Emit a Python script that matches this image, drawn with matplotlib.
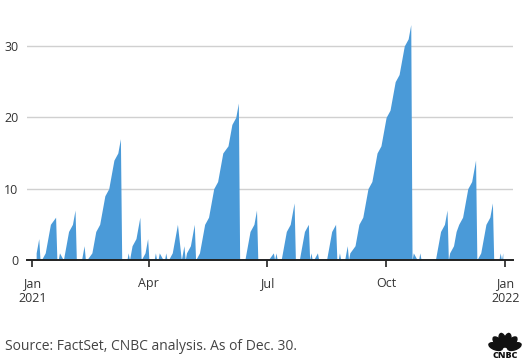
import numpy as np
import pandas as pd
import matplotlib.pyplot as plt
from matplotlib.patches import Ellipse

plt.rcParams['font.family'] = ['Open Sans', 'DejaVu Sans']

# market holidays 2021 (series runs on trading days, as of Dec. 30)
holidays = ['2021-01-18', '2021-02-15', '2021-04-02', '2021-05-31',
            '2021-07-05', '2021-09-06', '2021-11-25', '2021-12-24']

# values per trading day, month by month
jan = [1, 2, 3, 0, 0, 1, 2, 3, 4, 5, 6, 0, 0, 1, 0, 1, 2, 3, 4]
feb = [5, 6, 7, 0, 0, 0, 1, 2, 0, 0, 1, 2, 3, 4, 5, 6, 7, 8, 9]
mar = [10, 11, 12, 13, 14, 15, 16, 17, 0, 0, 0, 1, 0, 1, 2, 3, 4, 5, 6, 0, 1, 2, 3]
apr = [0, 0, 1, 0, 0, 1, 0, 0, 1, 0, 0, 1, 2, 3, 4, 5, 0, 1, 2, 0, 1]
may = [2, 3, 4, 5, 0, 1, 2, 3, 4, 5, 6, 7, 8, 9, 10, 11, 12, 13, 14, 15]
jun = [16, 17, 18, 19, 20, 21, 22, 0, 0, 0, 1, 2, 3, 4, 5, 6, 7, 0, 0, 0, 0, 0]
jul = [0, 0, 1, 0, 1, 0, 0, 1, 2, 3, 4, 5, 6, 7, 8, 0, 0, 1, 2, 3, 4]
aug = [5, 0, 1, 0, 0, 1, 0, 0, 0, 0, 0, 1, 2, 3, 4, 5, 0, 0, 1, 0, 0, 1]
sep = [2, 0, 1, 2, 3, 4, 5, 6, 7, 8, 9, 10, 11, 12, 13, 14, 15, 16, 17, 18, 19]
oct_ = [20, 21, 22, 23, 24, 25, 26, 27, 28, 29, 30, 31, 32, 33, 0, 1, 0, 0, 1, 0, 0]
nov = [0, 0, 0, 0, 0, 0, 1, 2, 3, 4, 5, 6, 7, 0, 1, 2, 3, 4, 5, 6, 7]
dec = [8, 9, 10, 11, 12, 13, 14, 0, 1, 2, 3, 4, 5, 6, 7, 8, 0, 0, 1, 0, 1]

tick_dates = ['2021-01-01', '2021-04-01', '2021-07-01', '2021-10-01', '2022-01-01']
tick_labels = ['Jan\n2021', 'Apr', 'Jul', 'Oct', 'Jan\n2022']
y_ticks = [0, 10, 20, 30]

values = jan + feb + mar + apr + may + jun + jul + aug + sep + oct_ + nov + dec
dates = pd.bdate_range('2021-01-04', '2021-12-30', freq='C', holidays=holidays)

W, H = 532, 363
fig = plt.figure(figsize=(W / 100, H / 100), dpi=100)
ax = fig.add_axes([26.7 / W, (H - 260) / H, (512.5 - 26.7) / W, (260 - 10.3) / H])

ax.fill_between(dates, values, 0, color='#4a9ad8', linewidth=0)

ax.set_xlim(pd.Timestamp('2020-12-27 17:00'), pd.Timestamp('2022-01-06 12:00'))
ax.set_ylim(0, 35)
ax.set_xticks(pd.to_datetime(tick_dates))
ax.set_xticklabels(tick_labels, linespacing=1.25)
ax.set_yticks(y_ticks)
ax.grid(axis='y', color='#d0d0d0', linewidth=1)
ax.set_axisbelow(True)
for s in ['top', 'right', 'left']:
    ax.spines[s].set_visible(False)
ax.spines['bottom'].set_color('#222222')
ax.spines['bottom'].set_linewidth(1.4)
ax.spines['bottom'].set_zorder(5)
ax.tick_params(axis='x', length=5, width=1.2, color='#222222', labelsize=9,
               labelcolor='#333333', pad=7)
ax.tick_params(axis='y', length=0, labelsize=9, labelcolor='#333333', pad=6)

fig.text(5 / W, 1 - 347 / H, 'Source: FactSet, CNBC analysis. As of Dec. 30.',
         fontsize=10, color='#444444', va='center', ha='left')

# CNBC peacock logo
lg = fig.add_axes([488 / W, 2 / H, 34 / W, 36 / H])
lg.set_xlim(0, 34)
lg.set_ylim(0, 36)
lg.axis('off')
for ang in np.linspace(160, 20, 6):
    r = np.radians(ang)
    cx, cy = 17 + 10 * np.cos(r), 11 + 10 * np.sin(r)
    lg.add_patch(Ellipse((cx, cy), 6.5, 14, angle=ang - 90, color='#111111'))
lg.text(17, 5, 'CNBC', ha='center', va='center', fontsize=6.5,
        fontweight='black', color='#111111')

fig.savefig('out.png', dpi=100)
